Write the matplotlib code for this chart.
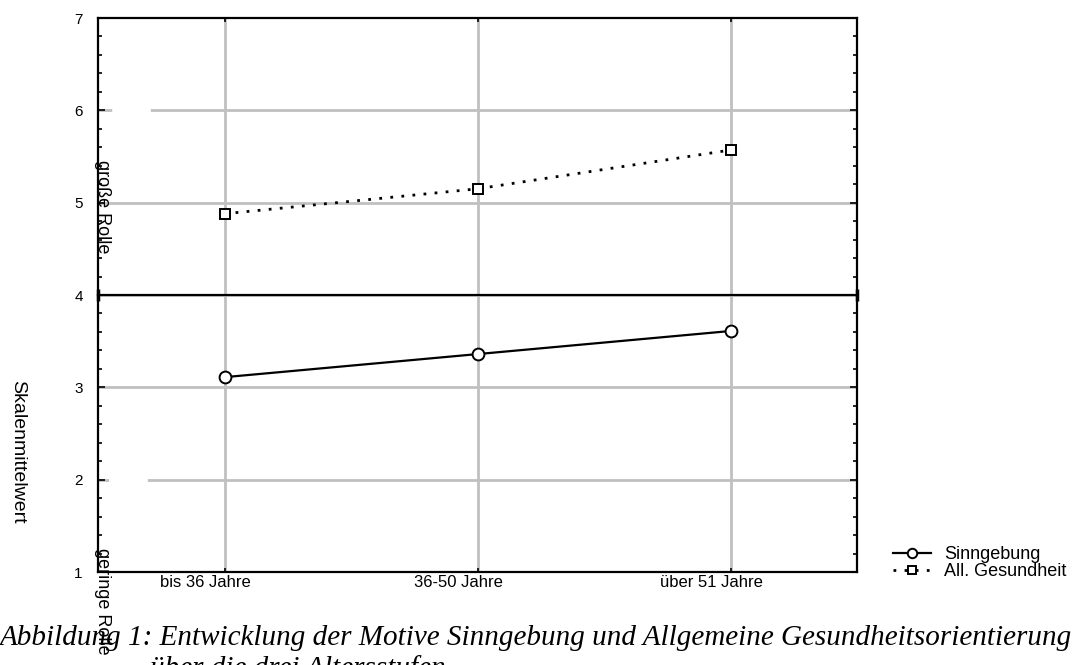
import matplotlib
matplotlib.use("Agg")
import matplotlib.pyplot as plt
from matplotlib.ticker import MultipleLocator

# data
categories = ["bis 36 Jahre", "36-50 Jahre", "über 51 Jahre"]
sinngebung = [3.11, 3.36, 3.61]
gesundheit = [4.88, 5.15, 5.57]
series_names = ["Sinngebung", "All. Gesundheit"]
y_ticks = [1, 2, 3, 4, 5, 6, 7]
mid_value = 4

plt.rcParams["font.family"] = ["Liberation Sans", "DejaVu Sans"]

W, H = 1091, 665
fig = plt.figure(figsize=(W / 100, H / 100), dpi=100)
ax = fig.add_axes([98 / W, 1 - 572 / H, (857 - 98) / W, (572 - 18) / H])

x = list(range(len(categories)))

ax.set_xlim(-0.5, 2.5)
ax.set_ylim(1, 7)
ax.set_xticks(x)
ax.set_yticks(y_ticks)
ax.set_yticklabels([str(v) for v in y_ticks], fontsize=11)
ax.yaxis.set_minor_locator(MultipleLocator(0.2))

# category labels sit a bit left of their ticks in the original export
for xi, cat in zip(x, categories):
    ax.annotate(cat, (xi, 0), xycoords=("data", "axes fraction"),
                xytext=(-13.5, -2), textcoords="offset points",
                ha="center", va="top", fontsize=12)

# grid
for v in x:
    ax.axvline(v, color="#c0c0c0", lw=2, zorder=0)
for v in y_ticks[1:-1]:
    ax.axhline(v, color="#c0c0c0", lw=2, zorder=0)
# gaps in the grid where label boxes sit
ax.axhline(6, xmin=17 / 759, xmax=50 / 759, color="white", lw=4, zorder=0.5)
ax.axhline(2, xmin=14 / 759, xmax=47 / 759, color="white", lw=4, zorder=0.5)

ax.plot([-0.5, 2.5], [mid_value, mid_value], color="black", lw=1.6,
        marker="|", ms=9, mew=2.5, zorder=2, clip_on=False)

ax.plot(x, sinngebung, color="black", lw=1.6, marker="o", ms=8.5,
        mfc="white", mec="black", mew=1.4, label=series_names[0], zorder=3)
ax.plot(x, gesundheit, color="black", lw=2, ls=(0, (1, 3)), marker="s",
        ms=7.5, mfc="white", mec="black", mew=1.4, label=series_names[1],
        zorder=3)

for s in ax.spines.values():
    s.set_linewidth(1.6)

ax.tick_params(axis="both", which="both", direction="in", right=True, top=True)
ax.tick_params(axis="y", which="major", length=5, width=1.2, pad=11)
ax.tick_params(axis="y", which="minor", length=3, width=1.2)
ax.tick_params(axis="x", which="major", length=3, width=1.2, labelbottom=False)

fig.text(18 / W, 1 - 452 / H, "Skalenmittelwert", rotation=270, fontsize=14,
         ha="center", va="center")
fig.text(102 / W, 1 - 207 / H, "große Rolle", rotation=270, fontsize=13,
         ha="center", va="center")
fig.text(102 / W, 1 - 548 / H, "geringe Rolle", rotation=270, fontsize=13,
         ha="center", va="top")

fig.legend(loc="center left", bbox_to_anchor=(893 / W, 1 - 563 / H),
           bbox_transform=fig.transFigure, frameon=False, fontsize=13,
           handlelength=2.1, handletextpad=0.75, labelspacing=0.0,
           borderaxespad=0, borderpad=0, markerscale=0.8)

fig.text(0.0, 1 - 645 / H, "Abbildung 1: Entwicklung der Motive Sinngebung und "
         "Allgemeine Gesundheitsorientierung", family="Liberation Serif",
         style="italic", fontsize=21, ha="left", va="baseline")
fig.text(150 / W, 1 - 676 / H, "über die drei Altersstufen",
         family="Liberation Serif", style="italic", fontsize=21,
         ha="left", va="baseline")

fig.savefig("out.png", dpi=100)
